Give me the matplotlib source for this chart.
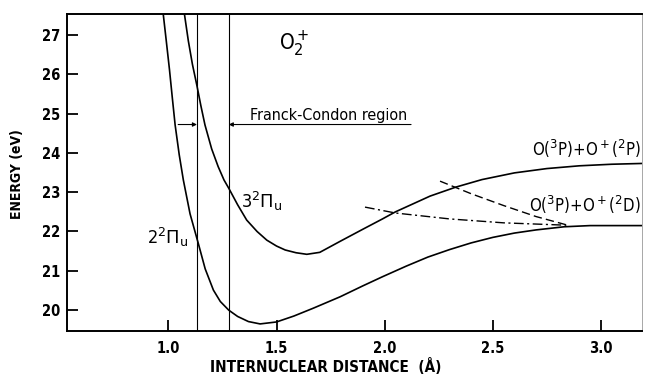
import matplotlib

matplotlib.use("Agg")
import matplotlib.pyplot as plt

# potential curves of O2+ (internuclear distance in Å, energy in eV)
LOWER_R = [0.976, 0.990, 1.005, 1.018, 1.031, 1.050, 1.069, 1.100, 1.138, 1.170, 1.208, 1.240, 1.279,
           1.320, 1.370, 1.424, 1.500, 1.580, 1.670, 1.794, 1.900, 1.990, 2.100, 2.200, 2.300, 2.400,
           2.500, 2.600, 2.700, 2.830, 2.950, 3.190]
LOWER_E = [27.53, 26.85, 26.11, 25.40, 24.71, 23.95, 23.31, 22.45, 21.70, 21.05, 20.51, 20.22, 20.00,
           19.84, 19.71, 19.65, 19.70, 19.85, 20.05, 20.34, 20.62, 20.85, 21.12, 21.35, 21.54, 21.71,
           21.85, 21.96, 22.04, 22.12, 22.15, 22.15]

UPPER_R = [1.074, 1.092, 1.111, 1.131, 1.150, 1.169, 1.200, 1.230, 1.257, 1.279, 1.320, 1.362, 1.410,
           1.455, 1.500, 1.540, 1.590, 1.640, 1.700, 1.794, 1.900, 1.990, 2.050, 2.130, 2.210, 2.330,
           2.450, 2.600, 2.750, 2.900, 3.050, 3.190]
UPPER_E = [27.53, 26.85, 26.25, 25.73, 25.20, 24.71, 24.10, 23.65, 23.31, 23.10, 22.68, 22.29, 22.00,
           21.78, 21.63, 21.53, 21.46, 21.42, 21.47, 21.75, 22.06, 22.32, 22.50, 22.70, 22.90, 23.13,
           23.32, 23.49, 23.60, 23.67, 23.71, 23.73]

DASHED_R = [2.256, 2.40, 2.55, 2.70, 2.84]
DASHED_E = [23.28, 22.96, 22.66, 22.38, 22.17]

DASHDOT_R = [1.909, 2.05, 2.30, 2.55, 2.84]
DASHDOT_E = [22.62, 22.47, 22.32, 22.22, 22.16]

FC_LEFT = 1.132
FC_RIGHT = 1.279

XTICKS = [1.0, 1.5, 2.0, 2.5, 3.0]
YTICKS = [20, 21, 22, 23, 24, 25, 26, 27]

FONT = dict(family="DejaVu Sans", fontstretch="condensed")

fig = plt.figure(figsize=(6.46, 3.77), dpi=100)
ax = fig.add_axes([67 / 646, 1 - 331 / 377, (642 - 67) / 646, (331 - 14) / 377])

ax.plot(LOWER_R, LOWER_E, color="black", lw=1.2, solid_joinstyle="round")
ax.plot(UPPER_R, UPPER_E, color="black", lw=1.2, solid_joinstyle="round")
ax.plot(DASHED_R, DASHED_E, color="black", lw=1.0, dashes=(6, 3))
ax.plot(DASHDOT_R, DASHDOT_E, color="black", lw=1.0, dashes=(7, 2.5, 1.5, 2.5))

ax.axvline(FC_LEFT, color="black", lw=0.8)
ax.axvline(FC_RIGHT, color="black", lw=0.8)

# Franck-Condon arrows; the right one runs on as the underline of the label
y_fc = 24.72
ax.annotate("", xy=(FC_LEFT, y_fc), xytext=(1.045, y_fc),
            arrowprops=dict(arrowstyle="-|>", color="black", lw=0.8, mutation_scale=6, shrinkA=0, shrinkB=0))
ax.annotate("", xy=(FC_RIGHT, y_fc), xytext=(2.122, y_fc),
            arrowprops=dict(arrowstyle="-|>", color="black", lw=0.8, mutation_scale=6, shrinkA=0, shrinkB=0))
ax.text(1.375, y_fc + 0.04, "Franck-Condon region", fontsize=11.5, va="bottom", ha="left", **FONT)

ax.text(1.58, 26.77, r"O$_2^+$", fontsize=15, ha="center", va="center", **FONT)
ax.text(1.433, 22.77, r"3$^2\mathrm{\Pi_u}$", fontsize=13, ha="center", va="center", **FONT)
ax.text(0.998, 21.86, r"2$^2\mathrm{\Pi_u}$", fontsize=13, ha="center", va="center", **FONT)
ax.text(3.185, 24.1, r"O($^3$P)+O$^+$($^2$P)", fontsize=12, ha="right", va="center", **FONT)
ax.text(3.185, 22.67, r"O($^3$P)+O$^+$($^2$D)", fontsize=12, ha="right", va="center", **FONT)

ax.set_xlim(0.531, 3.19)
ax.set_ylim(19.47, 27.53)
ax.set_xticks(XTICKS)
ax.set_xticklabels([f"{v:.1f}" for v in XTICKS], fontsize=10.5, fontweight="bold", **FONT)
ax.set_yticks(YTICKS)
ax.set_yticklabels([str(v) for v in YTICKS], fontsize=10.5, fontweight="bold", **FONT)
ax.tick_params(direction="in", length=8, width=1.3, pad=5)
ax.tick_params(axis="x", pad=7)

for side in ("left", "bottom", "top"):
    ax.spines[side].set_linewidth(1.4)
ax.spines["right"].set_linewidth(0.6)
ax.spines["right"].set_color("#999999")

fig.text(326 / 646, 1 - 366 / 377, "INTERNUCLEAR DISTANCE  (Å)", fontsize=11, fontweight="bold",
         ha="center", va="center", **FONT)
fig.text(17 / 646, 1 - 174 / 377, "ENERGY (eV)", fontsize=10, fontweight="bold", rotation=90,
         ha="center", va="center", **FONT)

fig.savefig("out.png", dpi=100)
